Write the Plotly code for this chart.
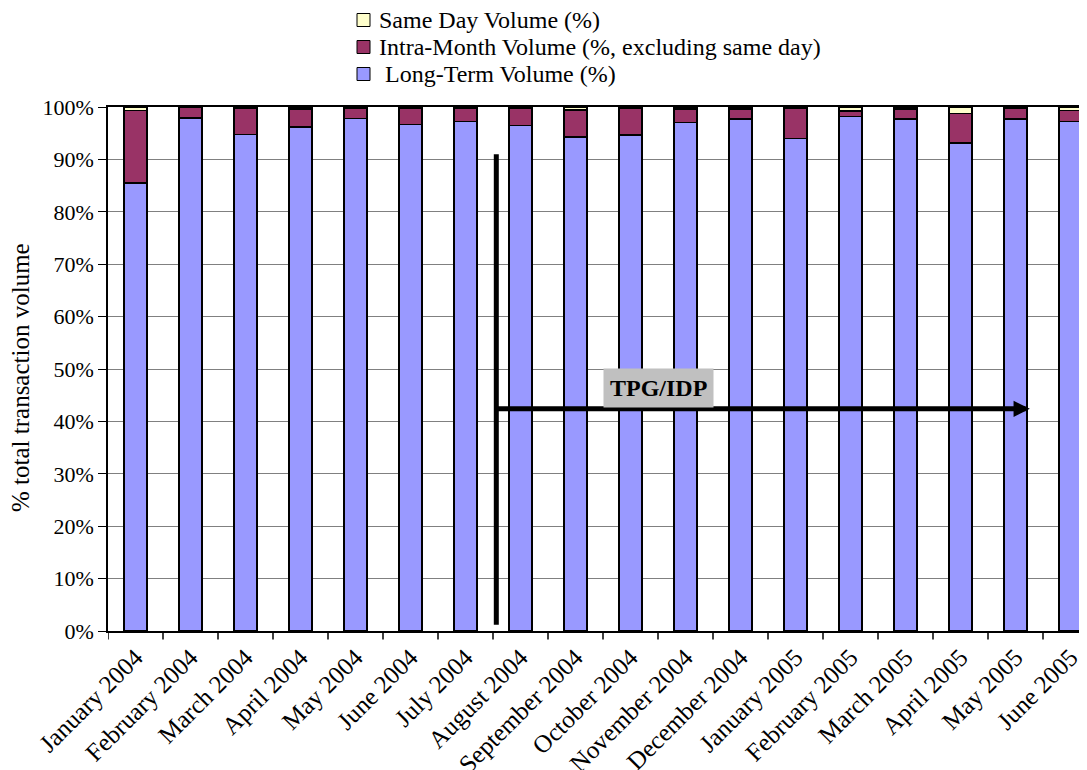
import plotly.graph_objects as go

months = ["January 2004", "February 2004", "March 2004", "April 2004", "May 2004",
          "June 2004", "July 2004", "August 2004", "September 2004", "October 2004",
          "November 2004", "December 2004", "January 2005", "February 2005",
          "March 2005", "April 2005", "May 2005", "June 2005"]

long_term = [85.5, 97.9, 94.8, 96.2, 97.8, 96.7, 97.2, 96.5, 94.3, 94.7,
             97.0, 97.7, 94.0, 98.2, 97.7, 93.1, 97.7, 97.2]
intra_month = [13.8, 2.0, 4.9, 3.4, 2.0, 3.1, 2.6, 3.2, 5.1, 5.0,
               2.6, 1.9, 5.7, 1.0, 1.9, 5.7, 2.1, 2.1]
same_day = [0.7, 0.1, 0.3, 0.4, 0.2, 0.2, 0.2, 0.3, 0.6, 0.3,
            0.4, 0.4, 0.3, 0.8, 0.4, 1.2, 0.2, 0.7]

series_names = ["Same Day Volume (%)", "Intra-Month Volume (%, excluding same day)",
                " Long-Term Volume (%)"]
series_colors = ["#FFFFCC", "#993366", "#9999FF"]

y_ticks = [0, 10, 20, 30, 40, 50, 60, 70, 80, 90, 100]
y_tick_labels = ["0%", "10%", "20%", "30%", "40%", "50%", "60%", "70%", "80%", "90%", "100%"]

FONT = "Liberation Serif, Times New Roman, serif"
line_style = dict(color="black", width=1.5)
xs = list(range(len(months)))

# page has an 8px body margin; plot area in page pixels: x 108..1087, y 107..631
OFF = 8
PL, PR, PT, PB = 108, 1087, 107, 631


def px(x):
    return (x - PL) / (PR - PL)


def py(y):
    return (PB - y) / (PB - PT)


fig = go.Figure()
for vals, name, col in [(long_term, series_names[2], series_colors[2]),
                        (intra_month, series_names[1], series_colors[1]),
                        (same_day, series_names[0], series_colors[0])]:
    fig.add_trace(go.Bar(x=xs, y=vals, name=name, showlegend=False,
                         marker=dict(color=col, line=line_style), width=0.42))

# manual legend (tight line spacing as in reference)
for i, (name, col) in enumerate(zip(series_names, series_colors)):
    cy = 20 + 27 * i
    fig.add_shape(type="rect", xref="paper", yref="paper",
                  x0=px(357), x1=px(370), y0=py(cy + 6.5), y1=py(cy - 6.5),
                  fillcolor=col, line=dict(color="black", width=1))
    fig.add_annotation(x=px(377 if not name.startswith(" ") else 383), y=py(cy),
                       xref="paper", yref="paper", xanchor="left", yanchor="middle",
                       text=name.strip(), showarrow=False,
                       font=dict(family=FONT, size=24, color="black"))

# y axis title
fig.add_annotation(x=px(20), y=py(378), xref="paper", yref="paper", textangle=-90,
                   xanchor="center", yanchor="middle",
                   text="% total transaction volume", showarrow=False,
                   font=dict(family=FONT, size=25, color="black"))

# TPG/IDP marker lines
fig.add_shape(type="line", xref="x", yref="y", x0=6.56, x1=6.56, y0=1.2, y1=91,
              line=dict(color="black", width=5))
fig.add_annotation(x=16.26, y=42.4, ax=6.52, ay=42.4, xref="x", yref="y",
                   axref="x", ayref="y", text="", showarrow=True,
                   arrowhead=2, arrowsize=0.65, arrowwidth=5, arrowcolor="black")
fig.add_annotation(x=9.5, y=46.4, xref="x", yref="y", text="<b>TPG/IDP</b>",
                   showarrow=False, bgcolor="#C0C0C0", borderpad=6,
                   font=dict(family=FONT, size=24, color="black"))

fig.update_layout(
    width=1087 - OFF, height=770 - OFF,
    margin=dict(l=PL - OFF, r=0, t=PT - OFF, b=770 - PB, autoexpand=False),
    paper_bgcolor="white", plot_bgcolor="white",
    barmode="stack",
    font=dict(family=FONT, size=22, color="black"),
    showlegend=False,
    xaxis=dict(tickmode="array", tickvals=xs, ticktext=months,
               range=[-0.5, 17.3], tickangle=-45, showline=True, linecolor="black",
               linewidth=1.5, mirror=True, ticks="", showgrid=False,
               tickfont=dict(family=FONT, size=25, color="black")),
    yaxis=dict(range=[0, 100], tickmode="array", tickvals=y_ticks, ticktext=y_tick_labels,
               showline=True, linecolor="black", linewidth=1.5, ticks="outside", ticklen=8,
               tickcolor="black", showgrid=True, gridcolor="#808080", gridwidth=1,
               tickfont=dict(family=FONT, size=22, color="black")),
)

# category boundary tick marks on x axis
for i in range(len(months) + 1):
    xb = i - 0.5
    if xb <= 17.3:
        fig.add_shape(type="line", xref="x", yref="paper", x0=xb, x1=xb, y0=0, y1=-0.016,
                      line=dict(color="black", width=1.5))

fig.write_html("out.html")
